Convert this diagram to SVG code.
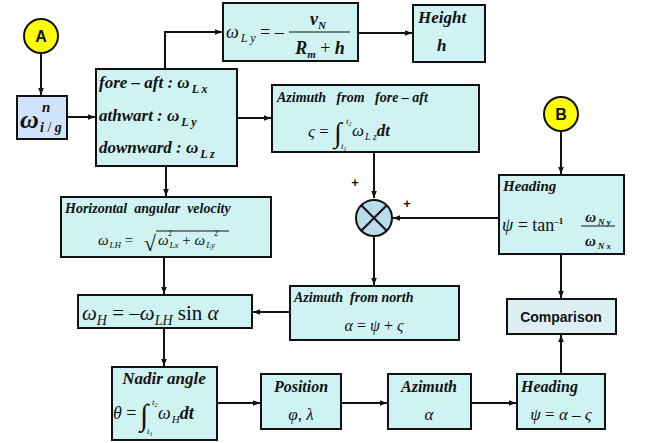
<svg xmlns="http://www.w3.org/2000/svg" width="654" height="443" viewBox="0 0 654 443">
<style>
.box{fill:#cff3f3;stroke:#111;stroke-width:2}
.t{font-family:"Liberation Serif",serif;font-weight:bold;font-style:italic;fill:#111}
.m{font-family:"Liberation Serif",serif;font-style:italic;fill:#111}
.r{font-family:"Liberation Serif",serif;fill:#111}
.sans{font-family:"Liberation Sans",Arial,sans-serif;font-weight:bold;fill:#111}
.c line,.c path{stroke:#111;stroke-width:2;fill:none}
</style>
<defs>
<marker id="ah" viewBox="0 0 10 10" refX="10" refY="5" markerWidth="9" markerHeight="7" markerUnits="userSpaceOnUse" orient="auto">
<path d="M0,1 L10,5 L0,9 Z" fill="#111"/>
</marker>
</defs>
<g class="c">
<line x1="41" y1="53" x2="41" y2="95" marker-end="url(#ah)"/>
<line x1="67" y1="117" x2="95" y2="117" marker-end="url(#ah)"/>
<path d="M165,69 V32 H222" marker-end="url(#ah)"/>
<line x1="358" y1="33" x2="412" y2="33" marker-end="url(#ah)"/>
<line x1="237" y1="118" x2="271" y2="118" marker-end="url(#ah)"/>
<line x1="166" y1="166" x2="166" y2="196" marker-end="url(#ah)"/>
<line x1="164" y1="257" x2="164" y2="294" marker-end="url(#ah)"/>
<line x1="164" y1="328" x2="164" y2="366" marker-end="url(#ah)"/>
<line x1="290" y1="312" x2="253" y2="312" marker-end="url(#ah)"/>
<line x1="374" y1="152" x2="374" y2="198" marker-end="url(#ah)"/>
<line x1="499" y1="218" x2="393" y2="218" marker-end="url(#ah)"/>
<line x1="374" y1="236" x2="374" y2="285" marker-end="url(#ah)"/>
<line x1="561" y1="131" x2="561" y2="174" marker-end="url(#ah)"/>
<line x1="561" y1="254" x2="561" y2="298" marker-end="url(#ah)"/>
<line x1="561" y1="374" x2="561" y2="335" marker-end="url(#ah)"/>
<line x1="217" y1="403" x2="260" y2="403" marker-end="url(#ah)"/>
<line x1="341" y1="403" x2="387" y2="403" marker-end="url(#ah)"/>
<line x1="471" y1="403" x2="516" y2="403" marker-end="url(#ah)"/>
</g>
<g id="nodeA">
<circle cx="41" cy="36" r="17" fill="#ffff00" stroke="#111" stroke-width="2"/>
<text x="41" y="42" text-anchor="middle" class="sans" font-size="16" font-weight="normal">A</text>
</g>
<g id="nodeB">
<circle cx="561" cy="114" r="17" fill="#ffff00" stroke="#111" stroke-width="2"/>
<text x="561" y="120" text-anchor="middle" class="sans" font-size="16" font-weight="normal">B</text>
</g>
<g id="omega-ig">
<rect x="17" y="96" width="50" height="43" fill="#cfe3fa" stroke="#111" stroke-width="2"/>
<text x="20" y="128" class="t" font-size="26">ω</text>
<text x="42" y="112" class="t" font-size="15">n</text>
<text x="40" y="132" class="t" font-size="14">i<tspan font-weight="normal" font-style="normal"> / </tspan>g</text>
</g>
<g id="axes">
<rect x="96" y="69" width="141" height="97" class="box"/>
<text x="99" y="88" class="t" font-size="17">fore – aft : ω<tspan font-size="12" dy="5" dx="2">L x</tspan></text>
<text x="99" y="121" class="t" font-size="17">athwart : ω<tspan font-size="12" dy="5" dx="2">L y</tspan></text>
<text x="99" y="153" class="t" font-size="17">downward : ω<tspan font-size="12" dy="5" dx="2">L z</tspan></text>
</g>
<g id="omegaLy">
<rect x="223" y="3" width="135" height="58" class="box"/>
<text x="226" y="38" class="m" font-size="18">ω<tspan font-size="12" dy="4" dx="2">L y</tspan><tspan dy="-4" font-style="normal"> = – </tspan></text>
<text x="318" y="25" class="t" font-size="18" text-anchor="middle">v<tspan font-size="11" dy="4">N</tspan></text>
<line x1="289" y1="32" x2="350" y2="32" stroke="#111" stroke-width="1"/>
<text x="320" y="54" class="t" font-size="18" text-anchor="middle">R<tspan font-size="11" dy="4">m</tspan><tspan dy="-4" font-weight="normal" font-style="normal"> + </tspan>h</text>
</g>
<g id="height">
<rect x="413" y="5" width="72" height="57" class="box"/>
<text x="418" y="23" class="t" font-size="17">Height</text>
<text x="437" y="51" class="t" font-size="17">h</text>
</g>
<g id="az-fore-aft">
<rect x="272" y="85" width="207" height="67" class="box"/>
<text x="277" y="102" class="t" font-size="14" xml:space="preserve">Azimuth   from   fore – aft</text>
<text x="308" y="137" class="m" font-size="17">ς <tspan font-style="normal">=</tspan></text>
<text x="334" y="142" class="r" font-size="28">∫</text>
<text x="346" y="124" class="m" font-size="9">t<tspan font-size="6" dy="2">2</tspan></text>
<text x="341" y="149" class="m" font-size="9">t<tspan font-size="6" dy="2">1</tspan></text>
<text x="352" y="136" class="m" font-size="17">ω<tspan font-size="10" dy="4" dx="1">L z</tspan><tspan dy="-4" font-weight="bold">dt</tspan></text>
</g>
<g id="sum">
<circle cx="374" cy="218" r="18" fill="#b8dce9" stroke="#111" stroke-width="2"/>
<line x1="361.3" y1="205.3" x2="386.7" y2="230.7" stroke="#111" stroke-width="2"/>
<line x1="386.7" y1="205.3" x2="361.3" y2="230.7" stroke="#111" stroke-width="2"/>
<text x="355" y="187" class="sans" font-size="13" text-anchor="middle" fill="#000">+</text>
<text x="407" y="208" class="sans" font-size="13" text-anchor="middle" fill="#000">+</text>
</g>
<g id="heading-b">
<rect x="499" y="175" width="125" height="79" class="box"/>
<text x="503" y="191" class="t" font-size="15">Heading</text>
<text x="502" y="231" class="m" font-size="18">ψ <tspan font-style="normal">= tan</tspan><tspan font-size="9" font-style="normal" font-weight="bold" dy="-7">–1</tspan></text>
<text x="598" y="222" class="t" font-size="15" text-anchor="middle">ω<tspan font-size="9" dy="3" dx="2">N y</tspan></text>
<line x1="581" y1="226" x2="615" y2="226" stroke="#111" stroke-width="1"/>
<text x="598" y="246" class="t" font-size="15" text-anchor="middle">ω<tspan font-size="9" dy="3" dx="2">N x</tspan></text>
</g>
<g id="comparison">
<rect x="507" y="299" width="109" height="35" fill="#dcf0f3" stroke="#111" stroke-width="2"/>
<text x="561" y="322" class="sans" font-size="14" text-anchor="middle">Comparison</text>
</g>
<g id="az-north">
<rect x="290" y="286" width="169" height="54" class="box"/>
<text x="294" y="302" class="t" font-size="14" xml:space="preserve">Azimuth  from north</text>
<text x="374" y="331" class="m" font-size="16" text-anchor="middle">α <tspan font-style="normal">=</tspan> ψ <tspan font-style="normal">+</tspan> ς</text>
</g>
<g id="hav">
<rect x="61" y="197" width="210" height="60" class="box"/>
<text x="65" y="213" class="t" font-size="14" xml:space="preserve">Horizontal  angular  velocity</text>
<text x="98" y="245" class="m" font-size="15">ω<tspan font-size="9" dy="3" dx="1">LH</tspan><tspan dy="-3" font-style="normal"> =</tspan></text>
<text x="144" y="251" class="r" font-size="22">√</text>
<line x1="156" y1="231" x2="229" y2="231" stroke="#111" stroke-width="1"/>
<text x="158" y="245" class="m" font-size="15">ω<tspan font-size="9" dy="3" dx="1">Lx</tspan><tspan dy="-3" font-style="normal"> + </tspan>ω<tspan font-size="9" dy="3" dx="1">Ly</tspan></text>
<text x="168" y="236" class="r" font-size="8">2</text>
<text x="214" y="236" class="r" font-size="8">2</text>
</g>
<g id="omegaH">
<rect x="78" y="295" width="174" height="33" class="box"/>
<text x="82" y="320" class="m" font-size="21">ω<tspan font-size="14" dy="5">H</tspan><tspan dy="-5" font-style="normal"> = –</tspan>ω<tspan font-size="14" dy="5">LH</tspan><tspan dy="-5" font-style="normal"> sin </tspan>α</text>
</g>
<g id="nadir">
<rect x="112" y="367" width="105" height="73" class="box"/>
<text x="164" y="384" class="t" font-size="17" text-anchor="middle">Nadir angle</text>
<text x="113" y="419" class="m" font-size="18">θ <tspan font-style="normal">=</tspan></text>
<text x="140" y="425" class="r" font-size="30">∫</text>
<text x="152" y="405" class="m" font-size="9">t<tspan font-size="6" dy="2">2</tspan></text>
<text x="147" y="434" class="m" font-size="9">t<tspan font-size="6" dy="2">1</tspan></text>
<text x="158" y="419" class="m" font-size="18">ω<tspan font-size="11" dy="4" dx="1">H</tspan><tspan dy="-4" font-weight="bold">dt</tspan></text>
</g>
<g id="position">
<rect x="261" y="374" width="80" height="55" class="box"/>
<text x="301" y="392" class="t" font-size="16" text-anchor="middle">Position</text>
<text x="301" y="420" class="m" font-size="17" text-anchor="middle">φ<tspan font-style="normal">,</tspan> λ</text>
</g>
<g id="azimuth">
<rect x="388" y="374" width="83" height="55" class="box"/>
<text x="429" y="392" class="t" font-size="16" text-anchor="middle">Azimuth</text>
<text x="429" y="420" class="m" font-size="17" text-anchor="middle">α</text>
</g>
<g id="heading">
<rect x="517" y="374" width="88" height="55" class="box"/>
<text x="521" y="392" class="t" font-size="16">Heading</text>
<text x="561" y="420" class="m" font-size="17" text-anchor="middle">ψ <tspan font-style="normal">=</tspan> α <tspan font-style="normal">–</tspan> ς</text>
</g>
</svg>
